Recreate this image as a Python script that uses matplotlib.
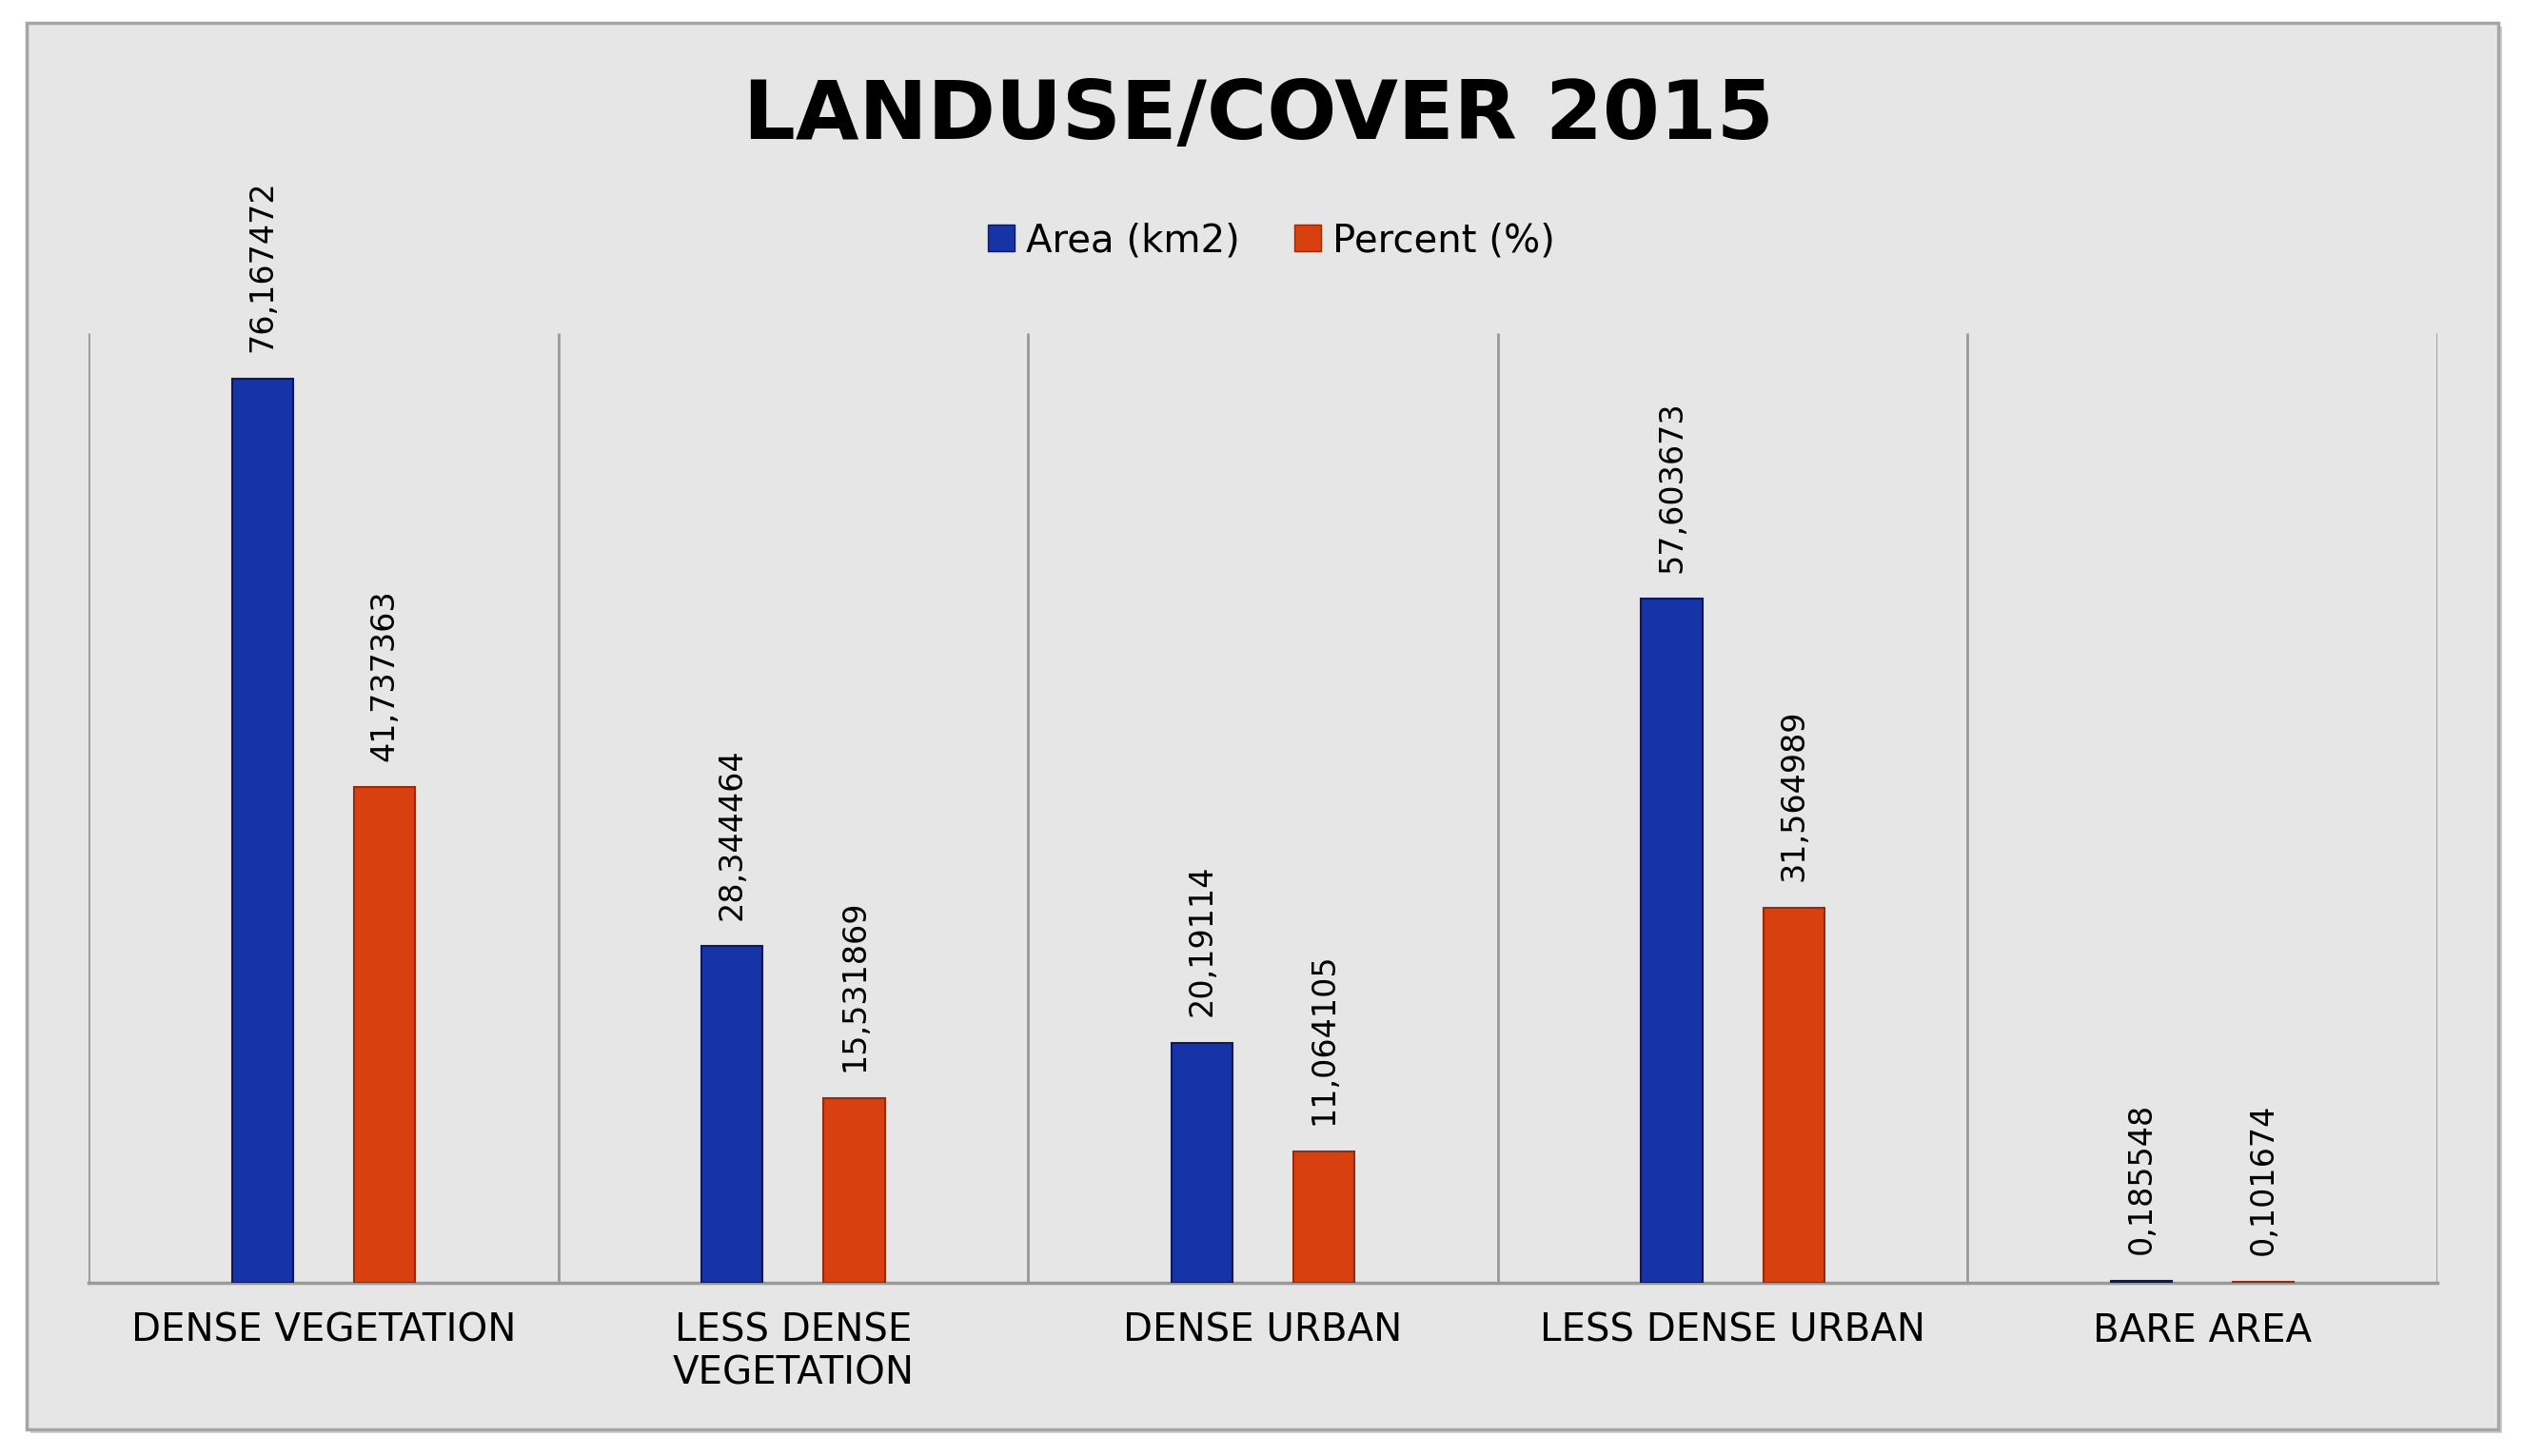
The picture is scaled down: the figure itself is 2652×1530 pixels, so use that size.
"""LANDUSE/COVER 2015 - area (km2) and percent per land cover class, Excel-style bars."""
import numpy as np
import matplotlib
matplotlib.use("Agg")
import matplotlib.pyplot as plt
from matplotlib.patches import Patch, Rectangle
from matplotlib import font_manager as fm

categories = ["DENSE VEGETATION", "LESS DENSE\nVEGETATION", "DENSE URBAN",
              "LESS DENSE URBAN", "BARE AREA"]
area_km2 = [76.167472, 28.344464, 20.19114, 57.603673, 0.185548]
percent = [41.737363, 15.531869, 11.064105, 31.564989, 0.101674]
area_lbl = ["76,167472", "28,344464", "20,19114", "57,603673", "0,185548"]
pct_lbl = ["41,737363", "15,531869", "11,064105", "31,564989", "0,101674"]

BLUE, BLUE_EDGE = "#1733A8", "#0B1A5E"
ORANGE, ORANGE_EDGE = "#D9400F", "#962A0A"
BG = "#E6E6E6"

names = {f.name for f in fm.fontManager.ttflist}
if "Liberation Sans Narrow" in names:
    lbl_font, lbl_size = "Liberation Sans Narrow", 30
else:
    lbl_font, lbl_size = "DejaVu Sans", 24

W, H = 2652, 1530
fig = plt.figure(figsize=(W / 100, H / 100), dpi=100)
fig.patch.set_facecolor("white")
# soft shadow + chart area box
fig.patches.append(Rectangle((32 / W, 1 - 1506 / H), (2625 - 28) / W, (1502 - 24) / H,
                             transform=fig.transFigure, facecolor="#D0D0D0",
                             edgecolor="none", zorder=-11))
fig.patches.append(Rectangle((28 / W, 1 - 1502 / H), (2625 - 28) / W, (1502 - 24) / H,
                             transform=fig.transFigure, facecolor=BG,
                             edgecolor="#A5A5A5", lw=2.5, zorder=-10))

ax = fig.add_axes([93 / W, 1 - 1348 / H, (2561 - 93) / W, (1348 - 350) / H])
ax.set_zorder(2)
ax.set_facecolor("none")
x = np.arange(len(categories))
bw, off = 0.13, 0.13
ax.bar(x - off, area_km2, bw, color=BLUE, edgecolor=BLUE_EDGE, lw=1.5, zorder=3)
ax.bar(x + off, percent, bw, color=ORANGE, edgecolor=ORANGE_EDGE, lw=1.5, zorder=3)

for xi, v, s in zip(x - off, area_km2, area_lbl):
    ax.annotate(s, (xi, v), xytext=(0, 20), textcoords="offset points", rotation=90,
                ha="center", va="bottom", fontsize=lbl_size, family=lbl_font)
for xi, v, s in zip(x + off, percent, pct_lbl):
    ax.annotate(s, (xi, v), xytext=(0, 20), textcoords="offset points", rotation=90,
                ha="center", va="bottom", fontsize=lbl_size, family=lbl_font)

ax.vlines(np.arange(-0.5, len(categories)), 0, 80, color="#999999", lw=2, zorder=1)
ax.set_xlim(-0.5, len(categories) - 0.5)
ax.set_ylim(0, 80)
for side in ("top", "left", "right"):
    ax.spines[side].set_visible(False)
ax.spines["bottom"].set_color("#999999")
ax.spines["bottom"].set_linewidth(2.5)
ax.set_yticks([])
ax.set_xticks(x)
ax.set_xticklabels(categories, fontsize=29, linespacing=1.15)
ax.tick_params(axis="x", length=0, pad=22)

fig.text(1322 / W, 1 - 122 / H, "LANDUSE/COVER 2015", ha="center", va="center",
         fontsize=62, fontweight="bold")

handles = [Patch(facecolor=BLUE, edgecolor=BLUE_EDGE, label="Area (km2)"),
           Patch(facecolor=ORANGE, edgecolor=ORANGE_EDGE, label="Percent (%)")]
fig.legend(handles=handles, loc="center", bbox_to_anchor=(1336 / W, 1 - 253 / H),
           ncol=2, frameon=False, fontsize=29, handlelength=0.7, handleheight=0.7,
           handletextpad=0.3, columnspacing=1.4)

fig.savefig("out.png", dpi=100)
